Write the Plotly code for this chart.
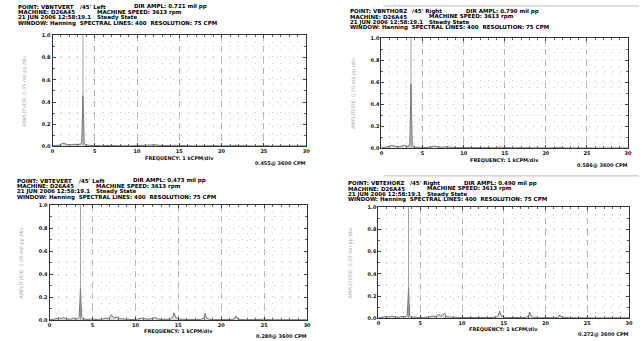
import plotly.graph_objects as go

W, H = 643, 341

# ---------------- data ----------------
freq_kcpm = [
    0.0, 0.4, 0.8, 1.2, 1.4, 1.6, 2.0, 2.4, 2.8, 3.0,
    3.3, 3.45, 3.525, 3.6, 3.675, 3.75, 3.9, 4.3, 4.8, 5.3,
    5.8, 6.2, 6.5, 6.8, 7.0, 7.2, 7.5, 7.9, 8.2, 8.6,
    9.1, 9.6, 10.1, 10.6, 10.8, 11.2, 11.7, 12.2, 12.6, 13.1,
    13.6, 14.1, 14.35, 14.5, 14.7, 15.1, 15.6, 16.1, 16.6, 17.1,
    17.6, 17.95, 18.1, 18.3, 18.7, 19.2, 19.7, 20.2, 20.7, 21.2,
    21.55, 21.7, 21.9, 22.4, 22.9, 23.4, 23.9, 24.4, 24.8, 25.0,
    25.3, 25.8, 26.4, 27.0, 27.6, 28.2, 28.8, 29.4, 30.0,
]

amp_vbntvert = [
    0.005, 0.008, 0.012, 0.030, 0.025, 0.015, 0.012, 0.018, 0.020, 0.022,
    0.020, 0.040, 0.250, 0.455, 0.240, 0.030, 0.012, 0.010, 0.008, 0.010,
    0.006, 0.008, 0.010, 0.007, 0.008, 0.009, 0.006, 0.008, 0.007, 0.006,
    0.005, 0.006, 0.008, 0.010, 0.014, 0.010, 0.012, 0.015, 0.010, 0.007,
    0.006, 0.007, 0.009, 0.012, 0.008, 0.006, 0.005, 0.006, 0.005, 0.006,
    0.005, 0.007, 0.010, 0.007, 0.005, 0.006, 0.005, 0.004, 0.005, 0.006,
    0.009, 0.012, 0.008, 0.005, 0.004, 0.005, 0.004, 0.005, 0.008, 0.012,
    0.007, 0.004, 0.005, 0.004, 0.005, 0.004, 0.005, 0.004, 0.005,
]

amp_vbnthorz = [
    0.006, 0.010, 0.015, 0.028, 0.024, 0.018, 0.015, 0.020, 0.028, 0.022,
    0.018, 0.045, 0.300, 0.586, 0.290, 0.035, 0.012, 0.010, 0.012, 0.008,
    0.010, 0.015, 0.022, 0.014, 0.010, 0.012, 0.009, 0.016, 0.012, 0.008,
    0.007, 0.008, 0.007, 0.009, 0.010, 0.008, 0.009, 0.008, 0.007, 0.006,
    0.006, 0.007, 0.009, 0.014, 0.008, 0.006, 0.005, 0.005, 0.006, 0.005,
    0.004, 0.005, 0.006, 0.005, 0.004, 0.005, 0.004, 0.004, 0.005, 0.004,
    0.007, 0.010, 0.006, 0.004, 0.005, 0.004, 0.004, 0.005, 0.004, 0.006,
    0.004, 0.003, 0.004, 0.003, 0.004, 0.003, 0.004, 0.003, 0.004,
]

amp_vbtevert = [
    0.004, 0.008, 0.010, 0.020, 0.015, 0.024, 0.012, 0.010, 0.020, 0.012,
    0.015, 0.030, 0.150, 0.280, 0.140, 0.025, 0.012, 0.008, 0.010, 0.008,
    0.009, 0.012, 0.018, 0.015, 0.025, 0.048, 0.020, 0.030, 0.015, 0.012,
    0.008, 0.007, 0.008, 0.012, 0.020, 0.012, 0.010, 0.025, 0.012, 0.008,
    0.007, 0.010, 0.030, 0.065, 0.025, 0.010, 0.008, 0.007, 0.006, 0.007,
    0.008, 0.020, 0.060, 0.018, 0.008, 0.006, 0.005, 0.006, 0.005, 0.007,
    0.015, 0.038, 0.014, 0.006, 0.005, 0.006, 0.005, 0.006, 0.008, 0.015,
    0.008, 0.005, 0.006, 0.005, 0.006, 0.005, 0.006, 0.005, 0.005,
]

amp_vbtehorz = [
    0.005, 0.010, 0.015, 0.012, 0.018, 0.020, 0.012, 0.010, 0.018, 0.014,
    0.016, 0.030, 0.145, 0.272, 0.135, 0.025, 0.012, 0.008, 0.009, 0.008,
    0.010, 0.014, 0.020, 0.016, 0.022, 0.035, 0.018, 0.045, 0.015, 0.010,
    0.008, 0.007, 0.008, 0.009, 0.010, 0.008, 0.009, 0.010, 0.008, 0.007,
    0.006, 0.010, 0.030, 0.065, 0.025, 0.010, 0.007, 0.006, 0.006, 0.007,
    0.008, 0.020, 0.055, 0.015, 0.007, 0.006, 0.005, 0.006, 0.005, 0.006,
    0.012, 0.030, 0.010, 0.005, 0.005, 0.006, 0.005, 0.006, 0.006, 0.008,
    0.006, 0.005, 0.005, 0.004, 0.005, 0.004, 0.005, 0.004, 0.005,
]

point_names = ["VBNTVERT", "VBNTHORZ", "VBTEVERT", "VBTEHORZ"]
directions = ["/45' Left", "/45' Right", "/45' Left", "/45' Right"]
dir_ampl = ["0.721", "0.790", "0.473", "0.490"]
peak_ampl = ["0.455", "0.586", "0.280", "0.272"]
machine = "D26A45"
machine_speed = "3613 rpm"
timestamp = "21 JUN 2006 12:58:19.1"
state = "Steady State"
cursor_kcpm = 3.6
x_ticks = [0, 5, 10, 15, 20, 25, 30]
y_ticks = [0.0, 0.2, 0.4, 0.6, 0.8, 1.0]

amps = [amp_vbntvert, amp_vbnthorz, amp_vbtevert, amp_vbtehorz]
for a in amps:
    assert len(a) == len(freq_kcpm)

# ---------------- layout geometry (pixels) ----------------
panels = [
    dict(box=(51, 307, 33, 146), text=(15, 4), ytx=23, fy=12, py_=17),
    dict(box=(383, 632, 36, 148), text=(350, 8.5), ytx=355, fy=12, py_=17),
    dict(box=(48, 308, 206, 323), text=(14, 181), ytx=20, fy=11, py_=15.5),
    dict(box=(380, 633, 208, 321), text=(348, 183.5), ytx=352, fy=10.5, py_=15.5),
]

FONT = "DejaVu Sans, Liberation Sans, sans-serif"
HFS = 5.5   # header font
FS = 5


def px(x):
    return x / W


def py(y):
    return 1 - y / H


fig = go.Figure()
annotations = []
shapes = []
layout_axes = {}

for i, (p, a) in enumerate(zip(panels, amps)):
    n = i + 1
    xa = "x" if n == 1 else f"x{n}"
    ya = "y" if n == 1 else f"y{n}"
    x0, x1, y0, y1 = p["box"]
    fig.add_trace(go.Scatter(
        x=freq_kcpm, y=a, mode="lines", xaxis=xa, yaxis=ya,
        line=dict(color="#555555", width=0.8), fill="tozeroy",
        fillcolor="rgba(195,195,195,0.6)", showlegend=False, hoverinfo="skip",
    ))
    common = dict(showline=True, linecolor="#333333", linewidth=1, mirror="ticks",
                  ticks="inside", ticklen=3, tickcolor="#444444",
                  tickfont=dict(family=FONT, size=FS, color="#111111", weight=700),
                  zeroline=False, showgrid=True)
    layout_axes["xaxis" if n == 1 else f"xaxis{n}"] = dict(
        common, domain=[px(x0), px(x1)], range=[0, 30], anchor=ya,
        tickvals=x_ticks, ticktext=[str(v) for v in x_ticks],
        gridcolor="#9a9a9a", griddash="6px,5px", gridwidth=0.7,
        minor=dict(dtick=1, showgrid=True, gridcolor="#bdbdbd", griddash="1px,6px",
                   gridwidth=0.8, ticks="inside", ticklen=2, tickcolor="#666666"),
    )
    layout_axes["yaxis" if n == 1 else f"yaxis{n}"] = dict(
        common, domain=[py(y1), py(y0)], range=[0, 1.0], anchor=xa,
        tickvals=y_ticks, ticktext=[f"{v:.1f}" for v in y_ticks],
        gridcolor="#bdbdbd", griddash="1px,7px", gridwidth=0.8,
        minor=dict(dtick=0.1, showgrid=True, gridcolor="#bdbdbd", griddash="1px,7px",
                   gridwidth=0.8, ticks="inside", ticklen=2, tickcolor="#666666"),
    )
    # cursor line at running speed
    shapes.append(dict(type="line", xref=xa, yref=f"{ya} domain",
                       x0=cursor_kcpm, x1=cursor_kcpm, y0=0, y1=1,
                       line=dict(color="#888888", width=0.8)))

    tx, ty = p["text"]
    hdr = dict(xref="paper", yref="paper", showarrow=False, xanchor="left",
               yanchor="middle", borderpad=0,
               font=dict(family=FONT, size=HFS, color="#000000", weight=700))
    lh = 5.6
    annotations += [
        dict(hdr, x=px(tx), y=py(ty), text=f"POINT: {point_names[i]}"),
        dict(hdr, x=px(tx + 63), y=py(ty), text=directions[i]),
        dict(hdr, x=px(tx + 117), y=py(ty), text=f"DIR AMPL: {dir_ampl[i]} mil pp"),
        dict(hdr, x=px(tx), y=py(ty + lh), text=f"MACHINE: {machine}"),
        dict(hdr, x=px(tx + 80), y=py(ty + lh), text=f"MACHINE SPEED: {machine_speed}"),
        dict(hdr, x=px(tx), y=py(ty + 2 * lh), text=timestamp),
        dict(hdr, x=px(tx + 80), y=py(ty + 2 * lh), text=state),
        dict(hdr, x=px(tx), y=py(ty + 3 * lh),
             text="WINDOW: Hanning  SPECTRAL LINES: 400  RESOLUTION: 75 CPM"),
    ]
    annotations.append(dict(xref="paper", yref="paper", showarrow=False,
                            x=px(p["ytx"]), y=py((y0 + y1) / 2), textangle=-90,
                            xanchor="center", yanchor="middle",
                            text="AMPLITUDE: 0.05 mil pp /div",
                            font=dict(family=FONT, size=FS, color="#aaaaaa")))
    annotations.append(dict(xref="paper", yref="paper", showarrow=False,
                            x=px((x0 + x1) / 2), y=py(y1 + p["fy"]),
                            xanchor="center", yanchor="middle", borderpad=0,
                            text="FREQUENCY: 1 kCPM/div",
                            font=dict(family=FONT, size=FS, color="#111111", weight=700)))
    annotations.append(dict(xref="paper", yref="paper", showarrow=False,
                            x=px(x1 + 1), y=py(y1 + p["py_"]),
                            xanchor="right", yanchor="middle", borderpad=0,
                            text=f"{peak_ampl[i]}@ 3600 CPM",
                            font=dict(family=FONT, size=FS, color="#111111", weight=700)))

# scan border lines on the right-hand sheets
for yb in (3, 176):
    shapes.append(dict(type="line", xref="paper", yref="paper",
                       x0=px(385), x1=1, y0=py(yb), y1=py(yb),
                       line=dict(color="#bbbbbb", width=1)))

fig.update_layout(width=W, height=H, margin=dict(l=0, r=0, t=0, b=0),
                  paper_bgcolor="white", plot_bgcolor="white",
                  annotations=annotations, shapes=shapes, **layout_axes)
fig.write_html("out.html",
               config={"displayModeBar": False, "staticPlot": True},
               post_script="document.body.style.margin='0';"
                           "document.body.style.overflow='hidden';")
